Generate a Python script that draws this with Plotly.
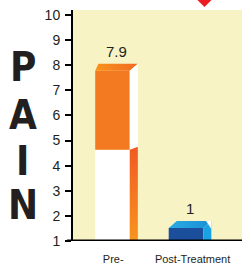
import plotly.graph_objects as go

# ---- data ----
categories = ["Pre-", "Post-Treatment"]
value_labels = ["7.9", "1"]
bar_tops = [7.78, 1.52]          # drawn heights of the bars
pre_white_split = 4.63           # lower part of the "Pre-" front face is white
y_ticks = list(range(1, 11))
side_letters = ["P", "A", "I", "N"]

FONT = "Liberation Sans, Arial, sans-serif"
BIG_FONT = "Liberation Sans Narrow, DejaVu Sans Condensed, Arial Narrow, sans-serif"
TXT = "#231F20"
x_pos = [0, 1]
W = 0.47
DX = 0.11
DY = 0.28
BASE = 1

fig = go.Figure()

# front faces
fig.add_trace(go.Bar(x=[x_pos[0]], y=[pre_white_split - BASE], base=[BASE], width=W,
                     marker=dict(color="white", line_width=0), hoverinfo="skip"))
fig.add_trace(go.Bar(x=[x_pos[0]], y=[bar_tops[0] - pre_white_split], base=[pre_white_split], width=W,
                     marker=dict(color="#F47A21", line_width=0), hoverinfo="skip"))
fig.add_trace(go.Bar(x=[x_pos[1]], y=[bar_tops[1] - BASE], base=[BASE], width=W,
                     marker=dict(color="#1B4F9C", line_width=0), hoverinfo="skip"))


def poly(xs, ys, color=None, grad=None):
    kw = dict(x=xs + [xs[0]], y=ys + [ys[0]], mode="lines", fill="toself",
              line=dict(width=0, color="rgba(0,0,0,0)"), hoverinfo="skip", showlegend=False)
    if grad is not None:
        kw["fillgradient"] = grad
    else:
        kw["fillcolor"] = color
    fig.add_trace(go.Scatter(**kw))


# Pre- 3D faces
c, t = x_pos[0], bar_tops[0]
L, R = c - W / 2, c + W / 2
poly([L, L + DX * 0.4, R + DX, R], [t, t + DY, t + DY, t],
     grad=dict(type="horizontal", start=L, stop=R + DX,
               colorscale=[[0, "#F7941D"], [1, "#F26A22"]]))
poly([R, R + DX, R + DX, R], [t, t + DY, pre_white_split, pre_white_split], color="white")
poly([R, R + DX, R + DX, R], [pre_white_split, pre_white_split + 0.12, BASE, BASE],
     grad=dict(type="vertical", start=pre_white_split + 0.12, stop=BASE,
               colorscale=[[0, "#F15A24"], [1, "#F7941D"]]))

# Post-Treatment 3D faces
c, t = x_pos[1], bar_tops[1]
L, R = c - W / 2, c + W / 2
poly([L, L + DX, R + DX, R], [t, t + DY, t + DY, t],
     grad=dict(type="horizontal", start=L, stop=R + DX,
               colorscale=[[0, "#29ABE2"], [1, "#1B8FD6"]]))
poly([R, R + DX, R + DX, R], [t, t + DY, BASE, BASE], color="#1AA3E3")
poly([R + DX * 0.35, R + DX, R + DX], [t + DY, t + DY, t + DY - 0.32], color="white")

# value labels
for i in range(2):
    fig.add_annotation(x=x_pos[i] + DX / 2, y=bar_tops[i] + DY + 0.5, text=value_labels[i],
                       showarrow=False, font=dict(size=15, color=TXT, family=FONT))

# big side letters
letter_y = [0.755, 0.546, 0.348, 0.154]
for ch, yy in zip(side_letters, letter_y):
    fig.add_annotation(x=-0.296, y=yy, xref="paper", yref="paper", text="<b>" + ch + "</b>",
                       showarrow=False, xanchor="center", yanchor="middle",
                       font=dict(size=40, color=TXT, family=BIG_FONT))

# x axis line (extends left past the y axis)
fig.add_shape(type="line", xref="paper", yref="y", x0=-0.035, x1=1, y0=BASE, y1=BASE,
              line=dict(color="black", width=3))
# red arrow tip at top
fig.add_shape(type="path", xref="paper", yref="paper",
              path="M 0.734,1.045 L 0.822,1.045 L 0.778,1.013 Z",
              fillcolor="#ED1C24", line=dict(width=0))

fig.update_layout(
    width=245, height=266, margin=dict(l=73, r=3, t=10, b=25),
    paper_bgcolor="white", plot_bgcolor="#F7F3C4", barmode="overlay", showlegend=False,
    xaxis=dict(range=[-0.537, 1.762], tickvals=[0.01, 1.09], ticktext=categories,
               showgrid=False, zeroline=False, showline=False, ticks="",
               automargin=False, ticklabelstandoff=10,
               tickfont=dict(size=11, color=TXT, family=FONT)),
    yaxis=dict(range=[1, 10.2], tickvals=y_ticks, showgrid=False, zeroline=False,
               showline=True, linecolor="black", linewidth=2, ticks="outside",
               ticklen=6, tickwidth=1.5, tickcolor="black", ticklabelstandoff=2,
               automargin=False, tickfont=dict(size=14, color=TXT, family=FONT)),
)

fig.write_html("out.html", config={"displayModeBar": False},
               post_script="document.body.style.margin='0px';")
